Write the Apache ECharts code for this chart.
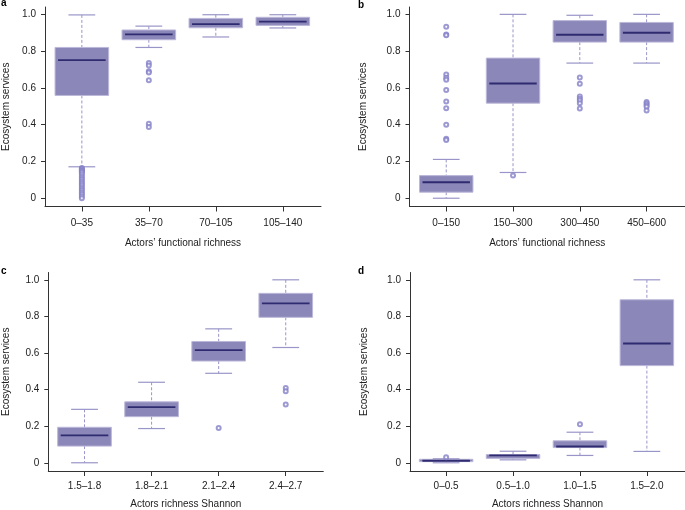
<!DOCTYPE html>
<html>
<head>
<meta charset="utf-8">
<title>Ecosystem services boxplots</title>
<style>
  body{ margin:0; background:#ffffff; }
  #main{ width:685px; height:510px; }
</style>
<script src="https://cdn.jsdelivr.net/npm/echarts@6/dist/echarts.min.js"></script>
</head>
<body>
<div id="main"></div>
<script>
// categories per panel
var catsA = ['0–35', '35–70', '70–105', '105–140'];
var catsB = ['0–150', '150–300', '300–450', '450–600'];
var catsC = ['1.5–1.8', '1.8–2.1', '2.1–2.4', '2.4–2.7'];
var catsD = ['0–0.5', '0.5–1.0', '1.0–1.5', '1.5–2.0'];

// box stats: [lower whisker, Q1, median, Q3, upper whisker]
var statsA = [
  [0.171, 0.559, 0.751, 0.820, 0.997],
  [0.820, 0.862, 0.891, 0.915, 0.936],
  [0.877, 0.927, 0.947, 0.978, 0.998],
  [0.926, 0.940, 0.960, 0.984, 0.998]
];
var statsB = [
  [0.000, 0.033, 0.087, 0.123, 0.211],
  [0.140, 0.517, 0.624, 0.762, 1.000],
  [0.735, 0.849, 0.889, 0.966, 0.995],
  [0.735, 0.849, 0.900, 0.956, 1.000]
];
var statsC = [
  [0.000, 0.091, 0.150, 0.194, 0.292],
  [0.187, 0.252, 0.304, 0.333, 0.440],
  [0.489, 0.556, 0.616, 0.663, 0.732],
  [0.630, 0.795, 0.871, 0.926, 1.000]
];
var statsD = [
  [0.000, 0.006, 0.011, 0.019, 0.022],
  [0.016, 0.024, 0.040, 0.045, 0.063],
  [0.040, 0.083, 0.089, 0.120, 0.167],
  [0.062, 0.531, 0.652, 0.891, 1.000]
];

// outliers per category
var outA = [
  [0.165, 0.16, 0.155, 0.15, 0.145, 0.14, 0.13, 0.12, 0.11, 0.10, 0.09, 0.08, 0.07, 0.06, 0.05, 0.04, 0.03, 0.02, 0.01, 0.0],
  [0.735, 0.722, 0.690, 0.684, 0.642, 0.405, 0.387],
  [],
  []
];
var outB = [
  [0.933, 0.891, 0.886, 0.673, 0.655, 0.644, 0.588, 0.526, 0.490, 0.399, 0.323, 0.316],
  [0.123],
  [0.657, 0.622, 0.553, 0.541, 0.532, 0.517, 0.488],
  [0.523, 0.515, 0.506, 0.497, 0.477]
];
var outC = [
  [],
  [],
  [0.190],
  [0.409, 0.391, 0.319]
];
var outD = [
  [0.030],
  [],
  [0.210],
  []
];

var yTicks = [0, 0.2, 0.4, 0.6, 0.8, 1.0];
var xTicks = [1, 2, 3, 4];

var BOX_FILL = '#8b87b8';
var BOX_EDGE = '#bcb8da';
var MEDIAN = '#2f2b70';
var WHISK = '#9995c8';
var POINT = '#8581c8';
var FONT = 'Liberation Sans, Arial, sans-serif';

function renderBox(params, api){
  var x = api.value(0);
  var lo = api.value(1), q1 = api.value(2), med = api.value(3), q3 = api.value(4), hi = api.value(5);
  var w = api.size([0.8, 0])[0];
  var cx = api.coord([x, med])[0];
  function y(v){ return api.coord([x, v])[1]; }
  return {
    type: 'group',
    children: [
      {type: 'line', shape: {x1: cx, y1: y(hi), x2: cx, y2: y(q3)},
       style: {stroke: WHISK, lineWidth: 1, lineDash: [3, 2]}},
      {type: 'line', shape: {x1: cx, y1: y(q1), x2: cx, y2: y(lo)},
       style: {stroke: WHISK, lineWidth: 1, lineDash: [3, 2]}},
      {type: 'line', shape: {x1: cx - w / 4, y1: y(hi), x2: cx + w / 4, y2: y(hi)},
       style: {stroke: WHISK, lineWidth: 1.2}},
      {type: 'line', shape: {x1: cx - w / 4, y1: y(lo), x2: cx + w / 4, y2: y(lo)},
       style: {stroke: WHISK, lineWidth: 1.2}},
      {type: 'rect', shape: {x: cx - w / 2, y: y(q3), width: w, height: Math.max(y(q1) - y(q3), 1)},
       style: {fill: BOX_FILL, stroke: BOX_EDGE, lineWidth: 1}},
      {type: 'line', shape: {x1: cx - w / 2 + 3, y1: y(med), x2: cx + w / 2 - 3, y2: y(med)},
       style: {stroke: MEDIAN, lineWidth: 1.8}}
    ]
  };
}

function boxData(stats){
  return stats.map(function(s, i){ return [i + 1].concat(s); });
}
function outData(outs){
  var res = [];
  outs.forEach(function(list, i){
    list.forEach(function(v){ res.push([i + 1, v]); });
  });
  return res;
}

var panels = [
  {cats: catsA, stats: statsA, outs: outA, title: 'Actors’ functional richness',
   grid: {left: 45, top: 7, width: 276, height: 199.5}, xMin: 0.45, xMax: 4.57, yGap: 34, xGap: 32, lblGap: 12},
  {cats: catsB, stats: statsB, outs: outB, title: 'Actors’ functional richness',
   grid: {left: 409.5, top: 7, width: 276, height: 199.5}, xMin: 0.45, xMax: 4.575, yGap: 41, xGap: 32, lblGap: 12},
  {cats: catsC, stats: statsC, outs: outC, title: 'Actors richness Shannon',
   grid: {left: 48.3, top: 272.5, width: 275, height: 199.5}, xMin: 0.46, xMax: 4.56, yGap: 37, xGap: 28, lblGap: 10},
  {cats: catsD, stats: statsD, outs: outD, title: 'Actors richness Shannon',
   grid: {left: 410, top: 272.5, width: 275, height: 199.5}, xMin: 0.46, xMax: 4.57, yGap: 41, xGap: 28, lblGap: 10}
];

var grids = [], xAxes = [], yAxes = [], series = [];
panels.forEach(function(p, k){
  grids.push(p.grid);
  xAxes.push({
    type: 'value', gridIndex: k, min: p.xMin, max: p.xMax,
    name: p.title, nameLocation: 'middle', nameGap: p.xGap,
    nameTextStyle: {fontFamily: FONT, fontSize: 10, color: '#222'},
    axisLine: {show: true, onZero: false, lineStyle: {color: '#333', width: 1}},
    axisTick: {show: true, length: 5, customValues: xTicks, lineStyle: {color: '#333'}},
    axisLabel: {margin: p.lblGap, customValues: xTicks, fontFamily: FONT, fontSize: 10, color: '#222',
      formatter: (function(cats){ return function(v){ return cats[Math.round(v) - 1]; }; })(p.cats)},
    splitLine: {show: false}
  });
  yAxes.push({
    type: 'value', gridIndex: k, min: -0.045, max: 1.04,
    name: 'Ecosystem services', nameLocation: 'middle', nameGap: p.yGap,
    nameTextStyle: {fontFamily: FONT, fontSize: 10, color: '#222'},
    axisLine: {show: true, onZero: false, lineStyle: {color: '#333', width: 1}},
    axisTick: {show: true, length: 4, customValues: yTicks, lineStyle: {color: '#333'}},
    axisLabel: {margin: 9, customValues: yTicks, fontFamily: FONT, fontSize: 10, color: '#222',
      formatter: function(v){ return v === 0 ? '0' : v.toFixed(1); }},
    splitLine: {show: false}
  });
  series.push({
    type: 'custom', xAxisIndex: k, yAxisIndex: k,
    renderItem: renderBox,
    encode: {x: 0, y: [1, 2, 3, 4, 5]},
    data: boxData(p.stats),
    silent: true
  });
  series.push({
    type: 'scatter', xAxisIndex: k, yAxisIndex: k,
    symbol: 'emptyCircle', symbolSize: 4,
    itemStyle: {color: POINT, borderColor: POINT, borderWidth: 0.7},
    data: outData(p.outs),
    silent: true, z: 3
  });
});

var letterStyle = {fontFamily: FONT, fontSize: 10, fontWeight: 'bold', fill: '#000'};
var chart = echarts.init(document.getElementById('main'));
chart.setOption({
  animation: false,
  grid: grids,
  xAxis: xAxes,
  yAxis: yAxes,
  series: series,
  graphic: [
    {type: 'text', left: 1, top: -2, style: Object.assign({text: 'a'}, letterStyle)},
    {type: 'text', left: 358, top: 0, style: Object.assign({text: 'b'}, letterStyle)},
    {type: 'text', left: 1, top: 266, style: Object.assign({text: 'c'}, letterStyle)},
    {type: 'text', left: 358, top: 266, style: Object.assign({text: 'd'}, letterStyle)}
  ]
});
</script>
</body>
</html>
